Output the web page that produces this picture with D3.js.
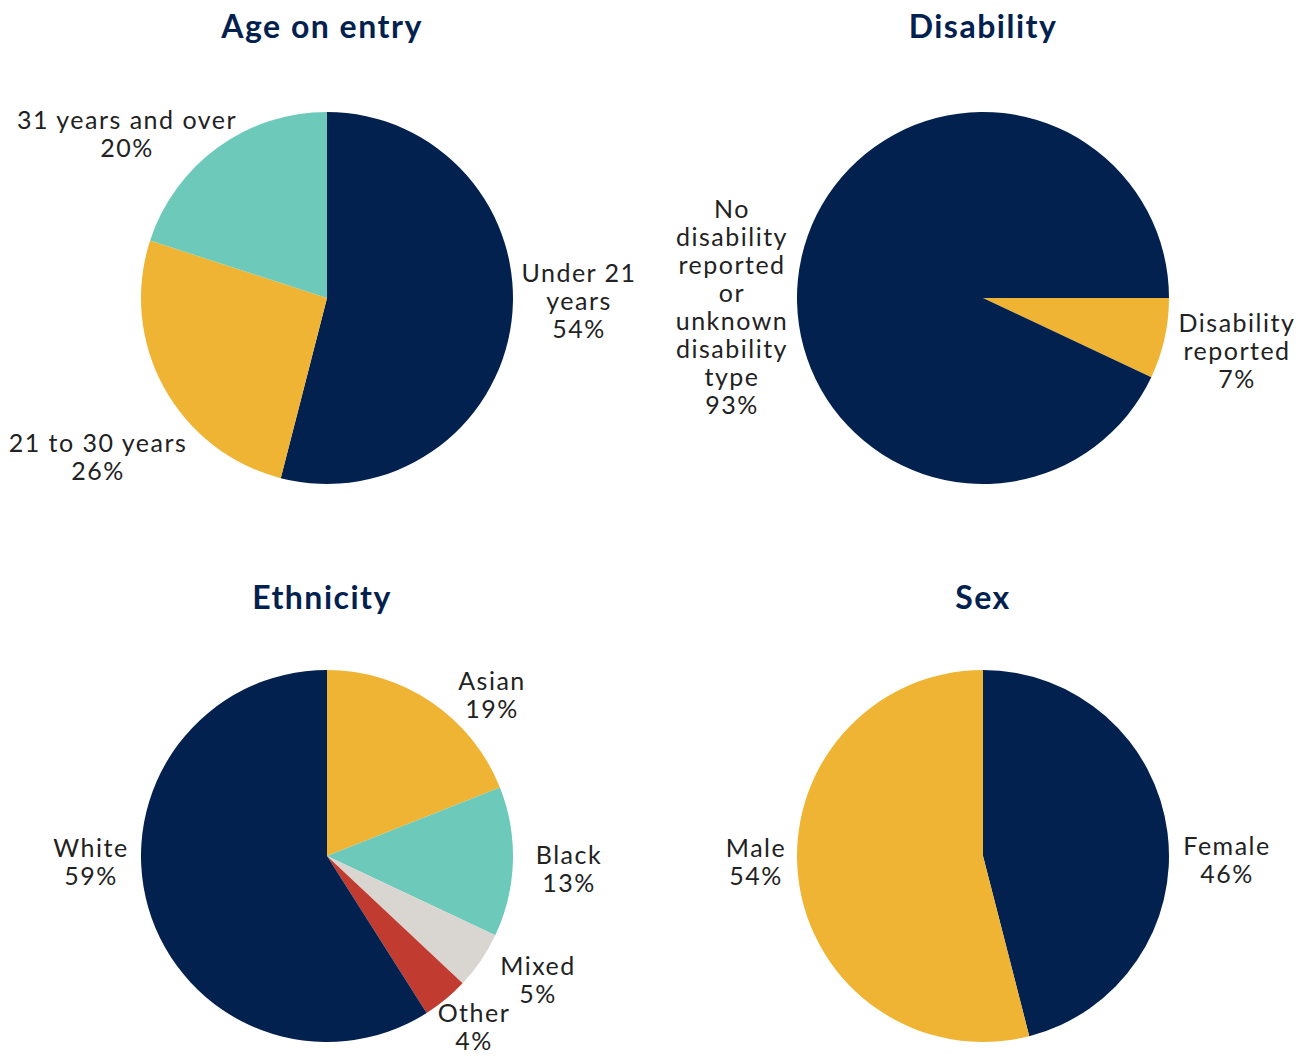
<!DOCTYPE html>
<html><head><meta charset="utf-8">
<script src="https://cdn.jsdelivr.net/npm/d3@7"></script>
<style>
html,body{margin:0;padding:0;background:#fff;}
svg{display:block;}
</style></head>
<body>
<script>
// ---- data ----
const chartTitles = ["Age on entry", "Disability", "Ethnicity", "Sex"];

const ageCategories = ["Under 21 years", "21 to 30 years", "31 years and over"];
const ageValues = [54, 26, 20];

const disabilityCategories = ["Disability reported", "No disability reported or unknown disability type"];
const disabilityValues = [7, 93];

const ethnicityCategories = ["Asian", "Black", "Mixed", "Other", "White"];
const ethnicityValues = [19, 13, 5, 4, 59];

const sexCategories = ["Female", "Male"];
const sexValues = [46, 54];

// label line breaks (text only)
const ageLabelLines = [["Under 21", "years"], ["21 to 30 years"], ["31 years and over"]];
const disabilityLabelLines = [["Disability", "reported"], ["No", "disability", "reported", "or", "unknown", "disability", "type"]];
const ethnicityLabelLines = [["Asian"], ["Black"], ["Mixed"], ["Other"], ["White"]];
const sexLabelLines = [["Female"], ["Male"]];

// ---- styling / layout ----
const W = 1309, H = 1057;
const navy = "#03214F", yellow = "#EFB434", teal = "#6DCABA", grey = "#D9D5D0", red = "#C13B30";
const R = 186;
const LH = 28;
const FONT = "Lato, 'Open Sans', sans-serif";

const charts = [
  {title: chartTitles[0], cats: ageCategories, vals: ageValues, lines: ageLabelLines,
   colors: [navy, yellow, teal], cx: 327, cy: 298, tx: 322, ty: 38, start: 0,
   offs: [[252, 2], [-229, 158], [-200, -165]]},
  {title: chartTitles[1], cats: disabilityCategories, vals: disabilityValues, lines: disabilityLabelLines,
   colors: [yellow, navy], cx: 983, cy: 298, tx: 983, ty: 38, start: Math.PI / 2,
   offs: [[254, 52], [-251, 8]]},
  {title: chartTitles[2], cats: ethnicityCategories, vals: ethnicityValues, lines: ethnicityLabelLines,
   colors: [yellow, teal, grey, red, navy], cx: 327, cy: 856, tx: 322, ty: 609, start: 0,
   offs: [[165, -162], [242, 12], [211, 123], [147, 170], [-236, 5]]},
  {title: chartTitles[3], cats: sexCategories, vals: sexValues, lines: sexLabelLines,
   colors: [navy, yellow], cx: 983, cy: 856, tx: 983, ty: 609, start: 0,
   offs: [[244, 3], [-227, 5]]}
];

const svg = d3.select("body").append("svg").attr("width", W).attr("height", H);
const arc = d3.arc().innerRadius(0).outerRadius(R);

charts.forEach(c => {
  svg.append("text")
    .attr("x", c.tx).attr("y", c.ty)
    .attr("text-anchor", "middle")
    .attr("font-family", FONT)
    .attr("font-weight", 700)
    .attr("font-size", 32)
    .attr("letter-spacing", 1.5)
    .attr("fill", navy)
    .text(c.title);

  const pie = d3.pie().sort(null).value(d => d)
    .startAngle(c.start).endAngle(c.start + 2 * Math.PI);
  const arcs = pie(c.vals);
  const g = svg.append("g").attr("transform", `translate(${c.cx},${c.cy})`);
  const color = d3.scaleOrdinal().domain(c.cats).range(c.colors);

  g.selectAll("path").data(arcs).join("path")
    .attr("d", arc)
    .attr("fill", (d, i) => color(c.cats[i]));

  arcs.forEach((d, i) => {
    const lines = c.lines[i].concat([c.vals[i] + "%"]);
    const [dx, dy] = c.offs[i];
    const y0 = dy - (lines.length - 1) * LH / 2;
    const t = g.append("text")
      .attr("text-anchor", "middle")
      .attr("font-family", FONT)
      .attr("font-size", 25)
      .attr("letter-spacing", 1.5)
      .attr("fill", "#222")
      .attr("dominant-baseline", "central");
    lines.forEach((ln, j) => {
      t.append("tspan").attr("x", dx).attr("y", y0 + j * LH).text(ln);
    });
  });
});
</script>
</body></html>
